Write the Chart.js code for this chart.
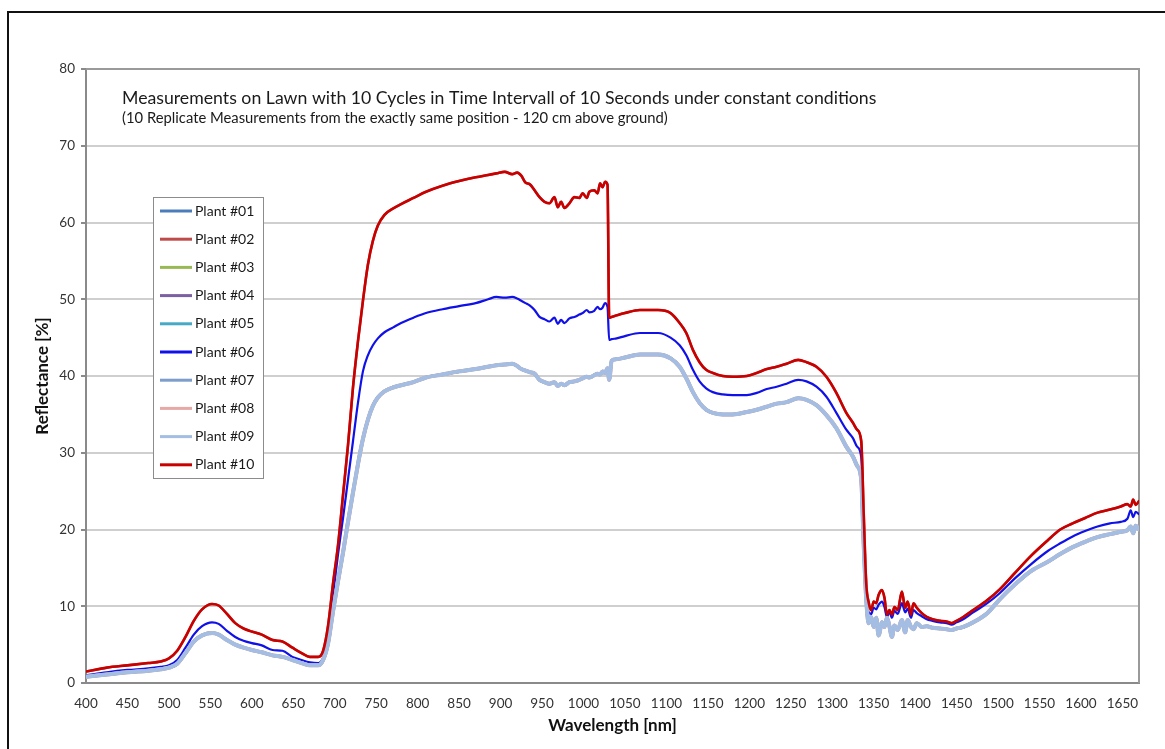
<!DOCTYPE html>
<html>
<head>
<meta charset="utf-8">
<script src="https://cdn.jsdelivr.net/npm/chart.js@4/dist/chart.umd.min.js"></script>
<style>
  html, body { margin: 0; padding: 0; background: #ffffff; }
  canvas { display: block; }
</style>
</head>
<body>
<canvas id="spectra" width="1165" height="749"></canvas>
<script>
// Wavelength grid (nm) shared by all reflectance curves
const wavelengths = [
  400, 425, 450, 475, 490, 500, 510, 520, 530, 540, 552, 560, 570, 580, 590, 600, 612, 625, 637, 649,
  660, 670, 680, 686, 692, 698, 704, 710, 716, 722, 728, 734, 740, 746, 752, 760, 770, 780, 795, 810,
  830, 850, 870, 885, 895, 905, 914, 920, 925, 930, 935, 941, 947, 953, 959, 965, 969, 973, 977, 983,
  989, 995, 999, 1004, 1007, 1013, 1017, 1020, 1023, 1026, 1029, 1031, 1034, 1040, 1050, 1068, 1090, 1105, 1116, 1124,
  1132, 1140, 1148, 1156, 1168, 1180, 1197, 1209, 1221, 1233, 1245, 1259, 1269, 1281, 1293, 1305, 1317, 1325, 1330, 1335,
  1338, 1341, 1344, 1347, 1350, 1353, 1356, 1360, 1363, 1366, 1369, 1372, 1375, 1379, 1384, 1388, 1391, 1395, 1398, 1402,
  1408, 1414, 1421, 1430, 1438, 1444, 1450, 1458, 1470, 1487, 1502, 1520, 1540, 1560, 1575, 1590, 1605, 1620, 1635, 1648,
  1656, 1660, 1663, 1666, 1670
];

// Reflectance [%] - highest curve (Plant #10 / #02)
const reflHigh = [
  1.5, 2.0, 2.3, 2.6, 2.8, 3.2, 4.2, 6.0, 8.1, 9.6, 10.3, 10.1, 9.0, 7.8, 7.1, 6.7, 6.3, 5.6, 5.4, 4.6,
  3.9, 3.4, 3.4, 4.2, 7.5, 13.0, 18.0, 24.5, 31.0, 38.5, 44.5, 49.8, 54.5, 57.6, 59.6, 61.0, 61.8, 62.4, 63.2, 64.0,
  64.8, 65.4, 65.9, 66.2, 66.4, 66.6, 66.3, 66.5, 66.1, 65.2, 65.0, 64.2, 63.3, 62.7, 62.5, 63.3, 62.0, 62.7, 61.9, 62.5,
  63.3, 63.2, 63.8, 63.2, 64.0, 64.2, 63.8, 65.1, 64.6, 65.3, 64.9, 47.6, 47.7, 47.9, 48.2, 48.6, 48.6, 48.2, 46.9, 45.6,
  43.4, 41.8, 40.8, 40.4, 40.0, 39.9, 40.0, 40.4, 40.9, 41.2, 41.6, 42.1, 41.8, 41.2, 39.9, 37.8, 35.2, 33.9, 33.0, 31.5,
  22.0, 13.0, 10.5, 9.5, 10.6, 10.4, 11.5, 12.1, 11.1, 8.9, 9.5, 8.9, 9.9, 9.5, 11.9, 9.8, 10.6, 8.9, 10.4, 9.8,
  9.1, 8.6, 8.3, 8.1, 8.0, 7.8, 8.1, 8.6, 9.5, 10.8, 12.2, 14.3, 16.6, 18.6, 20.0, 20.8, 21.5, 22.2, 22.6, 23.0,
  23.3, 23.0, 23.9, 23.2, 23.7
];

// Reflectance [%] - middle curve (Plant #06)
const reflMid = [
  1.0, 1.4, 1.7, 1.9, 2.1, 2.3, 3.0, 4.6, 6.3, 7.4, 7.9, 7.7, 6.8, 6.0, 5.5, 5.2, 4.9, 4.3, 4.2, 3.4,
  3.0, 2.7, 2.6, 3.3, 5.8, 11.5, 16.8, 21.5, 26.5, 31.5, 36.5, 40.6, 42.7, 44.0, 44.9, 45.7, 46.3, 46.9, 47.6, 48.2,
  48.7, 49.1, 49.5, 50.0, 50.3, 50.2, 50.3, 50.1, 49.8, 49.5, 49.2, 48.6, 47.7, 47.4, 47.1, 47.6, 46.8, 47.3, 46.9, 47.5,
  47.7, 48.0, 48.2, 48.6, 48.3, 48.5, 49.0, 48.7, 48.9, 49.5, 49.0, 44.7, 44.8, 44.9, 45.2, 45.6, 45.6, 45.0, 44.0, 42.7,
  40.8, 39.3, 38.4, 37.9, 37.6, 37.5, 37.5, 37.8, 38.3, 38.6, 39.0, 39.5, 39.3, 38.6, 37.3, 35.2, 33.0, 31.9, 30.8, 29.4,
  20.0, 11.5, 9.2, 9.0, 9.8, 9.6, 10.2, 10.6, 9.9, 8.6, 9.3, 8.5, 9.4, 9.0, 10.4, 9.2, 9.7, 8.5, 9.5, 9.1,
  8.7, 8.3, 8.1, 7.9, 7.8, 7.6, 7.9, 8.3, 9.2, 10.4, 11.7, 13.6, 15.5, 17.2, 18.2, 19.1, 19.8, 20.4, 20.8, 21.0,
  21.4, 22.5, 21.6, 22.3, 22.0
];

// Reflectance [%] - lower group of near-identical replicates
const reflLow = [
  0.8, 1.1, 1.4, 1.6, 1.8, 2.0, 2.5, 3.9, 5.4, 6.2, 6.5, 6.3, 5.6, 5.0, 4.6, 4.3, 4.0, 3.6, 3.4, 3.0,
  2.6, 2.3, 2.3, 3.0, 5.2, 9.4, 13.3, 17.0, 21.0, 24.8, 28.5, 31.8, 34.3, 36.1, 37.2, 38.0, 38.5, 38.8, 39.2, 39.8,
  40.2, 40.6, 40.9, 41.2, 41.4, 41.5, 41.6, 41.3, 40.9, 40.7, 40.5, 40.3, 39.5, 39.2, 39.0, 39.2, 38.7, 39.0, 38.8, 39.2,
  39.3, 39.5, 39.7, 39.9, 39.8, 40.1, 40.3, 40.2, 40.6, 40.4, 41.0, 39.5, 42.0, 42.2, 42.4, 42.8, 42.8, 42.3, 41.2, 39.7,
  37.9, 36.5, 35.6, 35.2, 35.0, 35.0, 35.3, 35.6, 36.0, 36.4, 36.6, 37.1, 36.9, 36.2, 34.9, 33.2, 30.8, 29.5, 28.3, 26.5,
  18.0, 11.0, 7.8, 8.6, 7.3, 8.5, 6.2, 7.9, 7.3, 8.5, 7.4, 6.0, 7.5, 6.9, 8.2, 6.6, 8.2, 7.3, 7.0, 7.8,
  7.3, 7.4, 7.2, 7.1, 7.0, 6.9, 7.1, 7.3, 7.9, 9.1, 10.9, 12.8, 14.6, 15.8, 16.8, 17.7, 18.4, 19.0, 19.4, 19.7,
  19.9, 20.4, 19.5, 20.5, 20.0
];

const plantNames = ['Plant #01', 'Plant #02', 'Plant #03', 'Plant #04', 'Plant #05',
                    'Plant #06', 'Plant #07', 'Plant #08', 'Plant #09', 'Plant #10'];
const plantColors = ['#4a7ebb', '#be4b48', '#98b954', '#7d60a0', '#46aac5',
                     '#1010e8', '#7e9dcc', '#e6a9a7', '#a3bee2', '#c80000'];
const plantCurves = [reflLow, reflHigh, reflLow, reflLow, reflLow,
                     reflMid, reflLow, reflLow, reflLow, reflHigh];
const plantWidths = [3, 2.5, 3, 3, 3, 2.2, 3.5, 4, 4, 2.6];

const xTickValues = [400, 450, 500, 550, 600, 650, 700, 750, 800, 850, 900, 950, 1000,
                     1050, 1100, 1150, 1200, 1250, 1300, 1350, 1400, 1450, 1500, 1550, 1600, 1650];
const yTickValues = [0, 10, 20, 30, 40, 50, 60, 70, 80];

const titleMain = 'Measurements on Lawn with 10 Cycles in Time Intervall of 10 Seconds under constant conditions';
const titleSub = '(10 Replicate Measurements from the exactly same position - 120 cm above ground)';

const FONT = 'Lato, "Open Sans", sans-serif';

const datasets = plantNames.map((name, i) => ({
  label: name,
  data: wavelengths.map((w, k) => ({ x: w, y: plantCurves[i][k] })),
  borderColor: plantColors[i],
  backgroundColor: plantColors[i],
  borderWidth: plantWidths[i],
  pointRadius: 0,
  fill: false,
  cubicInterpolationMode: 'monotone',
  borderJoinStyle: 'round',
  borderCapStyle: 'round',
  order: plantNames.length - 1 - i
}));

// Plot frame (top and right edges of the plot area)
const frameBox = {
  id: 'frameBox',
  beforeDatasetsDraw(chart) {
    const { ctx, chartArea: a } = chart;
    ctx.save();
    ctx.strokeStyle = '#9a9a9a';
    ctx.lineWidth = 2;
    ctx.beginPath();
    ctx.moveTo(a.left, a.top);
    ctx.lineTo(a.right, a.top);
    ctx.lineTo(a.right, a.bottom);
    ctx.stroke();
    ctx.restore();
  }
};

// Headline text placed inside the plot area
const headline = {
  id: 'headline',
  afterDraw(chart) {
    const { ctx } = chart;
    ctx.save();
    ctx.fillStyle = '#1a1a1a';
    ctx.textBaseline = 'middle';
    ctx.textAlign = 'left';
    ctx.font = '17.7px ' + FONT;
    ctx.fillText(titleMain, 122, 98);
    ctx.font = '14.8px ' + FONT;
    ctx.fillText(titleSub, 122, 118);
    ctx.restore();
  }
};

// Boxed legend drawn from the dataset labels and colours
const boxLegend = {
  id: 'boxLegend',
  afterDraw(chart) {
    const { ctx } = chart;
    const x0 = 153, y0 = 197, w = 110, h = 281, step = 28.2;
    ctx.save();
    ctx.fillStyle = '#ffffff';
    ctx.fillRect(x0, y0, w, h);
    ctx.strokeStyle = '#8c8c8c';
    ctx.lineWidth = 1;
    ctx.strokeRect(x0 + 0.5, y0 + 0.5, w, h);
    ctx.font = '14px ' + FONT;
    ctx.textBaseline = 'middle';
    ctx.fillStyle = '#1a1a1a';
    chart.data.datasets.forEach((ds, i) => {
      const cy = 211 + i * step;
      ctx.strokeStyle = ds.borderColor;
      ctx.lineWidth = 3;
      ctx.beginPath();
      ctx.moveTo(160, cy);
      ctx.lineTo(192, cy);
      ctx.stroke();
      ctx.fillText(ds.label, 195, cy);
    });
    ctx.restore();
  }
};

// Outer border around the whole figure
const outerBorder = {
  id: 'outerBorder',
  afterDraw(chart) {
    const { ctx } = chart;
    ctx.save();
    ctx.strokeStyle = '#111111';
    ctx.lineWidth = 2;
    ctx.strokeRect(8, 12, 1300, 900);
    ctx.restore();
  }
};

new Chart(document.getElementById('spectra'), {
  type: 'line',
  data: { datasets },
  plugins: [frameBox, headline, boxLegend, outerBorder],
  options: {
    responsive: false,
    animation: false,
    devicePixelRatio: 1,
    layout: { padding: { left: 0, top: 69, right: 26, bottom: 0 } },
    plugins: {
      legend: { display: false },
      tooltip: { enabled: false },
      title: { display: false }
    },
    scales: {
      x: {
        type: 'linear',
        min: 400,
        max: 1670,
        afterBuildTicks(scale) { scale.ticks = xTickValues.map(v => ({ value: v })); },
        afterFit(scale) { scale.height = 66; },
        grid: { display: false, drawTicks: false },
        border: { display: true, color: '#8a8a8a', width: 2 },
        ticks: {
          autoSkip: false, maxRotation: 0, padding: 13,
          color: '#333333', font: { family: FONT, size: 13.5 },
          callback: (v) => String(v)
        },
        title: {
          display: true, text: 'Wavelength [nm]', color: '#111111',
          font: { family: FONT, size: 17, weight: 'bold' }, padding: { top: 0, bottom: 13 }
        }
      },
      y: {
        type: 'linear',
        min: 0,
        max: 80,
        afterBuildTicks(scale) { scale.ticks = yTickValues.map(v => ({ value: v })); },
        afterFit(scale) { scale.width = 86; },
        grid: { color: '#cfcfcf', lineWidth: 2, drawTicks: true, tickLength: 5, tickColor: '#8a8a8a', tickWidth: 2 },
        border: { display: true, color: '#8a8a8a', width: 2 },
        ticks: { padding: 6, color: '#333333', font: { family: FONT, size: 13.5 }, callback: (v) => String(v) },
        title: {
          display: true, text: 'Reflectance [%]', color: '#111111',
          font: { family: FONT, size: 17, weight: 'bold' }, padding: { top: 32, bottom: 0 }
        }
      }
    }
  }
});
</script>
</body>
</html>
